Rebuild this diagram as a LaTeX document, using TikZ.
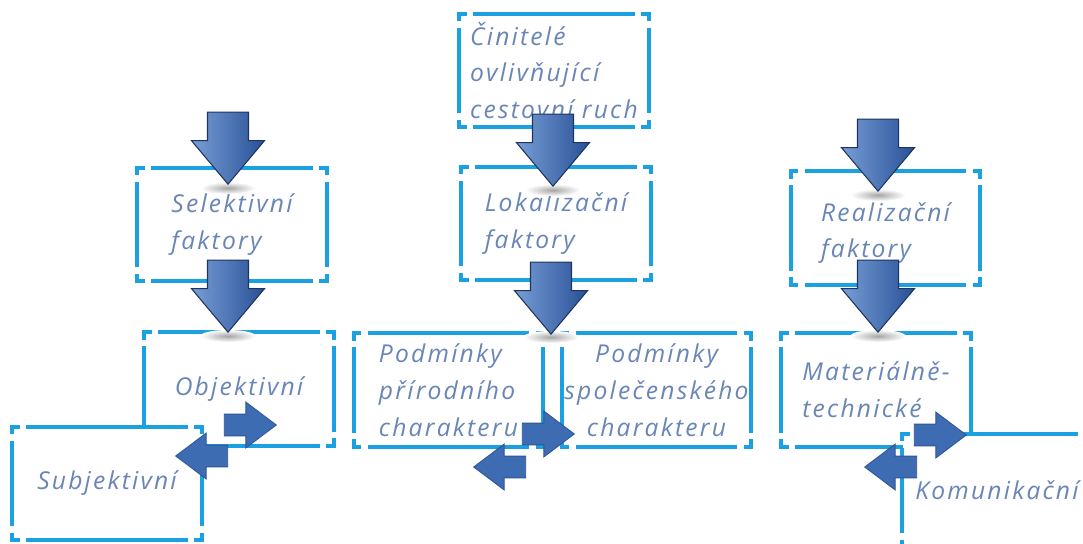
\documentclass[tikz,border=0pt]{standalone}
\usepackage{fontspec}
\newfontfamily\handfont{Open Sans}[LetterSpace=9]
\usetikzlibrary{shapes.arrows,shapes.geometric}

\definecolor{framecyan}{RGB}{27,161,226}
\definecolor{textblue}{RGB}{106,134,182}
\definecolor{arrowlight}{RGB}{120,158,214}
\definecolor{arrowdark}{RGB}{40,80,150}
\definecolor{arrowedge}{RGB}{30,52,96}
\definecolor{flatblue}{RGB}{62,108,178}
\definecolor{flatedge}{RGB}{45,85,150}

% broken frame round a box: corner pieces, then the four sides
\newcommand{\cornerframe}[1]{%
  \draw[frameline] ([yshift=-0.15cm]#1.north west) -- (#1.north west) -- ([xshift=0.15cm]#1.north west)
    ([xshift=-0.15cm]#1.north east) -- (#1.north east) -- ([yshift=-0.15cm]#1.north east)
    ([yshift=0.15cm]#1.south east) -- (#1.south east) -- ([xshift=-0.15cm]#1.south east)
    ([xshift=0.15cm]#1.south west) -- (#1.south west) -- ([yshift=0.15cm]#1.south west);
  \draw[frameline] ([xshift=0.28cm]#1.north west) -- ([xshift=-0.28cm]#1.north east)
    ([yshift=-0.28cm]#1.north east) -- ([yshift=0.28cm]#1.south east)
    ([xshift=-0.28cm]#1.south east) -- ([xshift=0.28cm]#1.south west)
    ([yshift=0.28cm]#1.south west) -- ([yshift=-0.28cm]#1.north west);
}

\begin{document}
\begin{tikzpicture}[
  x=0.02cm, y=-0.02cm,
  boxtext/.style={font=\handfont\itshape\fontsize{14}{21}\selectfont, text=textblue, align=left},
  box/.style={boxtext, minimum width=3.78cm, minimum height=2.26cm, fill=white, inner sep=0pt},
  frameline/.style={draw=framecyan, line width=2.3pt},
  downarrow/.style={single arrow, rotate=-90, draw=arrowedge, line width=0.6pt,
    left color=arrowlight, right color=arrowdark, minimum height=1.44cm,
    inner sep=0pt, inner ysep=0.4cm, single arrow head extend=0.32cm,
    single arrow tip angle=80, anchor=tip},
  flatarrow/.style={single arrow, draw=flatedge, line width=0.5pt, fill=flatblue,
    minimum height=1.04cm, inner sep=0pt, inner ysep=0.21cm,
    single arrow head extend=0.24cm, single arrow tip angle=74, anchor=tip},
  tipshadow/.style={ellipse, minimum width=1.1cm, minimum height=0.24cm,
    inner sep=0pt, inner color=black!35, outer color=white}
]
\useasboundingbox[fill=white] (0,0) rectangle (1083,544);

% boxes
\node[box] (cin) at (554,70.5) {Činitelé\\ovlivňující\\cestovní ruch};
\cornerframe{cin}
\node[box] (sel) at (232,224.5) {Selektivní\\faktory};
\cornerframe{sel}
\node[box] (lok) at (556,223.5) {Lokalizační\\faktory};
\cornerframe{lok}
\node[box] (rea) at (885.5,228) {};
\node[boxtext] (reatext) at (rea.center) [yshift=-0.1cm] {Realizační\\faktory};
\cornerframe{rea}
\node[box] (obj) at (239,389) {Objektivní};
\cornerframe{obj}
\node[box] (sub) at (107,483.5) {Subjektivní};
\cornerframe{sub}
\node[box] (pri) at (448.5,390) {Podmínky\\přírodního\\charakteru};
\cornerframe{pri}
\node[box, align=center] (spo) at (656.5,390) {Podmínky\\společenského\\charakteru};
\cornerframe{spo}
\node[box] (mat) at (876,390) {Materiálně-\\technické};
\cornerframe{mat}
\node[box] (kom) at (997,490.5) {Komunikační};
\cornerframe{kom}

% shadows under the arrow tips
\node[tipshadow] (sh1) at (228,188) {};
\node[tipshadow] (sh2) at (228,336) {};
\node[tipshadow] (sh3) at (553,190) {};
\node[tipshadow] (sh4) at (551,337) {};
\node[tipshadow] (sh5) at (878,195) {};
\node[tipshadow] (sh6) at (878,336) {};

% down arrows
\node[downarrow] (arr1) at (228,185) {};
\node[downarrow] (arr2) at (228,333) {};
\node[downarrow] (arr3) at (553,187) {};
\node[downarrow] (arr4) at (551,335) {};
\node[downarrow] (arr5) at (878,192) {};
\node[downarrow] (arr6) at (878,333) {};

% two-way arrows
\node[flatarrow] (objsub) at (277,425) {};
\node[flatarrow, rotate=180] (subobj) at (175,456) {};
\node[flatarrow] (prispo) at (575,434) {};
\node[flatarrow, rotate=180] (spopri) at (473,467) {};
\node[flatarrow] (matkom) at (967,435) {};
\node[flatarrow, rotate=180] (kommat) at (864,467) {};
\end{tikzpicture}
\end{document}
